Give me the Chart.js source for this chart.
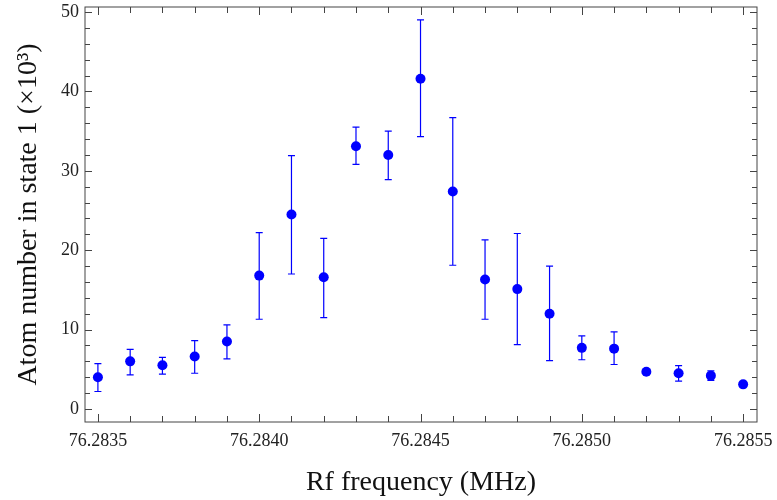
<!DOCTYPE html>
<html>
<head>
<meta charset="utf-8">
<script src="https://cdn.jsdelivr.net/npm/chart.js@4.4.1/dist/chart.umd.min.js"></script>
<style>
  body { margin: 0; background: #fff; }
  canvas { display: block; }
</style>
</head>
<body>
<canvas id="chart" width="777" height="500"></canvas>
<script>
// Rf frequency (MHz)
const frequencies = [
  76.2835, 76.2836, 76.2837, 76.2838, 76.2839, 76.2840, 76.2841,
  76.2842, 76.2843, 76.2844, 76.2845, 76.2846, 76.2847, 76.2848,
  76.2849, 76.2850, 76.2851, 76.2852, 76.2853, 76.2854, 76.2855
];
// atom number in state 1 (x10^3)
const atoms = [
  4.0, 6.0, 5.5, 6.6, 8.5, 16.8, 24.5,
  16.6, 33.1, 32.0, 41.6, 27.4, 16.3, 15.1,
  12.0, 7.7, 7.6, 4.7, 4.5, 4.2, 3.1
];
const errUpper = [
  5.7, 7.5, 6.5, 8.6, 10.6, 22.2, 31.9,
  21.5, 35.5, 35.0, 49.0, 36.7, 21.3, 22.1,
  18.0, 9.2, 9.7, 4.9, 5.45, 4.8, 3.3
];
const errLower = [
  2.2, 4.3, 4.4, 4.5, 6.3, 11.3, 17.0,
  11.5, 30.8, 28.9, 34.3, 18.1, 11.3, 8.1,
  6.1, 6.2, 5.6, 4.5, 3.5, 3.6, 2.9
];

const xTickValues = [76.2835, 76.2840, 76.2845, 76.2850, 76.2855];
const xTickLabels = ['76.2835', '76.2840', '76.2845', '76.2850', '76.2855'];
const yTickValues = [0, 10, 20, 30, 40, 50];
const xMinorStep = 0.0001;
const yMinorStep = 2;

const blue = '#0000ff';
const frameColor = '#444';

const errorBars = {
  id: 'errorBars',
  beforeDatasetsDraw(chart) {
    const { ctx, scales: { x, y } } = chart;
    ctx.save();
    ctx.strokeStyle = blue;
    ctx.lineWidth = 1.2;
    frequencies.forEach((f, i) => {
      const px = x.getPixelForValue(f);
      const top = y.getPixelForValue(errUpper[i]);
      const bot = y.getPixelForValue(errLower[i]);
      ctx.beginPath();
      ctx.moveTo(px, top); ctx.lineTo(px, bot);
      ctx.moveTo(px - 3.5, top); ctx.lineTo(px + 3.5, top);
      ctx.moveTo(px - 3.5, bot); ctx.lineTo(px + 3.5, bot);
      ctx.stroke();
    });
    ctx.restore();
  }
};

// frame with inward ticks on all four sides
const frame = {
  id: 'frame',
  afterDraw(chart) {
    const { ctx, chartArea: a, scales: { x, y } } = chart;
    ctx.save();
    ctx.strokeStyle = frameColor;
    ctx.lineWidth = 1;
    ctx.strokeRect(a.left, a.top, a.right - a.left, a.bottom - a.top);
    ctx.beginPath();
    for (let k = 0; k <= 20; k++) {
      const v = xTickValues[0] + k * xMinorStep;
      const px = Math.round(x.getPixelForValue(v)) + 0.5;
      const len = k % 5 === 0 ? 8 : 6;
      ctx.moveTo(px, a.bottom); ctx.lineTo(px, a.bottom - len);
      ctx.moveTo(px, a.top); ctx.lineTo(px, a.top + len);
    }
    for (let v = 0; v <= 50; v += yMinorStep) {
      const py = Math.round(y.getPixelForValue(v)) + 0.5;
      const len = v % 10 === 0 ? 7 : 5;
      ctx.moveTo(a.left, py); ctx.lineTo(a.left + len, py);
      ctx.moveTo(a.right, py); ctx.lineTo(a.right - len, py);
    }
    ctx.stroke();
    ctx.restore();
  }
};

new Chart(document.getElementById('chart'), {
  type: 'scatter',
  data: {
    datasets: [{
      data: frequencies.map((f, i) => ({ x: f, y: atoms[i] })),
      backgroundColor: blue,
      borderColor: blue,
      pointRadius: 5,
      pointHoverRadius: 5,
      borderWidth: 0
    }]
  },
  options: {
    responsive: false,
    animation: false,
    events: [],
    layout: { padding: { top: 7, right: 20, bottom: 0, left: 0 } },
    plugins: { legend: { display: false }, tooltip: { enabled: false } },
    scales: {
      x: {
        type: 'linear',
        min: 76.28346,
        max: 76.285543,
        grid: { display: false, drawTicks: false },
        border: { display: false },
        afterBuildTicks: s => { s.ticks = xTickValues.map(v => ({ value: v })); },
        afterFit: s => { s.height = 78; s.paddingLeft = 0; s.paddingRight = 0; },
        ticks: {
          padding: 8,
          color: '#222',
          font: { family: 'Liberation Serif', size: 18 },
          callback: (v) => {
            const i = xTickValues.findIndex(t => Math.abs(t - v) < 1e-7);
            return i >= 0 ? xTickLabels[i] : '';
          }
        },
        title: {
          display: true,
          text: 'Rf frequency (MHz)',
          color: '#111',
          font: { family: 'Liberation Serif', size: 28, lineHeight: 1.2 },
          padding: { top: 0, bottom: 1 }
        }
      },
      y: {
        min: -1.64,
        max: 50.63,
        grid: { display: false, drawTicks: false },
        border: { display: false },
        afterBuildTicks: s => { s.ticks = yTickValues.map(v => ({ value: v })); },
        afterFit: s => { s.width = 85; s.paddingTop = 0; s.paddingBottom = 0; },
        ticks: {
          padding: 6,
          color: '#222',
          font: { family: 'Liberation Serif', size: 18 }
        },
        title: {
          display: true,
          text: 'Atom number in state 1 (×10³)',
          color: '#111',
          font: { family: 'Liberation Serif', size: 28, lineHeight: 1.2 },
          padding: { top: 12, bottom: 0 }
        }
      }
    }
  },
  plugins: [errorBars, frame]
});
</script>
</body>
</html>
